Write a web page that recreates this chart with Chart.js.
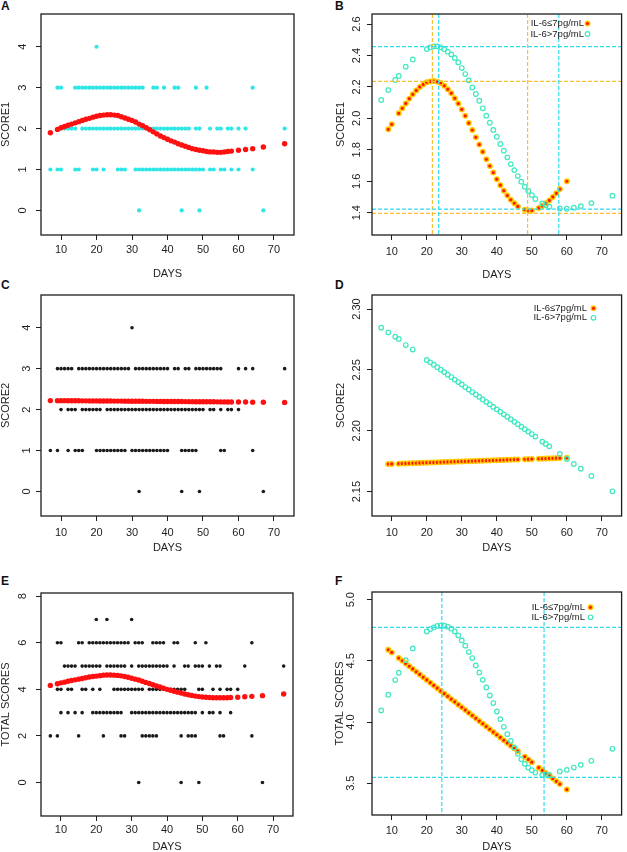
<!DOCTYPE html>
<html>
<head>
<meta charset="utf-8">
<script src="https://cdn.jsdelivr.net/npm/chart.js@4.4.0/dist/chart.umd.min.js"></script>
<style>
  body { margin: 0; background: #fff; width: 627px; height: 852px; position: relative; overflow: hidden; }
  canvas { position: absolute; }
  .tag { position: absolute; font: bold 12px "Liberation Sans", Arial, sans-serif; line-height: 1; color: #111; }
</style>
</head>
<body>
<div class="tag" style="left:1px;top:0px">A</div>
<div class="tag" style="left:335px;top:0px">B</div>
<div class="tag" style="left:1px;top:279px">C</div>
<div class="tag" style="left:335px;top:279px">D</div>
<div class="tag" style="left:1px;top:575px">E</div>
<div class="tag" style="left:335px;top:575px">F</div>

<canvas id="chartA" width="313" height="285" style="left:0;top:0"></canvas>
<canvas id="chartB" width="314" height="285" style="left:313px;top:0"></canvas>
<canvas id="chartC" width="313" height="283" style="left:0;top:285px"></canvas>
<canvas id="chartD" width="314" height="283" style="left:313px;top:285px"></canvas>
<canvas id="chartE" width="313" height="284" style="left:0;top:568px"></canvas>
<canvas id="chartF" width="314" height="284" style="left:313px;top:568px"></canvas>

<script>
// ticks
let dayTicks = [10, 20, 30, 40, 50, 60, 70]
let score12Ticks = [0, 1, 2, 3, 4]
let totalTicks = [0, 2, 4, 6, 8]
let ticksB = [1.4, 1.6, 1.8, 2.0, 2.2, 2.4, 2.6]
let ticksD = [2.15, 2.20, 2.25, 2.30]
let ticksF = [3.5, 4.0, 4.5, 5.0]

//A: SCORE1 raw values, days at each score
let scoreA4 = [20]
let scoreA3 = [9, 10, 14, 15, 16, 17, 18, 19, 20, 21, 22, 23, 24, 25, 26, 27, 28, 29, 30, 31, 32, 33, 36, 37, 39, 42, 43, 48, 51, 64]
let scoreA2 = [10, 11, 12, 13, 14, 16, 17, 18, 19, 20, 21, 22, 23, 24, 25, 26, 27, 28, 29, 30, 31, 32, 33, 34, 35, 36, 37, 38, 39, 40, 41, 42, 43, 44, 45, 46, 48, 49, 52, 54, 55, 57, 58, 60, 62, 73]
let scoreA1 = [7, 9, 10, 14, 15, 19, 20, 22, 26, 27, 28, 31, 32, 33, 34, 35, 36, 37, 38, 39, 40, 41, 42, 43, 44, 45, 46, 47, 48, 49, 50, 52, 53, 55, 56, 58, 60, 64]
let scoreA0 = [32, 44, 49, 67]

//C: SCORE2 raw values
let scoreC4 = [30]
let scoreC3 = [9, 10, 11, 12, 13, 15, 16, 17, 18, 19, 20, 21, 22, 23, 24, 25, 26, 27, 28, 29, 31, 32, 33, 34, 35, 36, 37, 38, 39, 40, 42, 43, 45, 46, 48, 49, 50, 51, 52, 53, 54, 55, 60, 62, 64, 73]
let scoreC2 = [10, 12, 13, 14, 16, 17, 18, 19, 20, 21, 23, 24, 25, 26, 27, 28, 29, 30, 31, 32, 33, 34, 35, 36, 37, 38, 39, 40, 41, 42, 43, 44, 45, 46, 47, 48, 49, 50, 52, 53, 55, 57, 58, 60]
let scoreC1 = [7, 9, 12, 14, 15, 16, 20, 21, 22, 23, 24, 25, 26, 27, 28, 30, 31, 32, 33, 34, 35, 36, 37, 38, 39, 40, 44, 45, 46, 47, 48, 55, 56, 64]
let scoreC0 = [32, 44, 49, 67]

//E: TOTAL SCORES raw values
let totalE7 = [20, 23, 30]
let totalE6 = [9, 10, 15, 16, 18, 19, 20, 21, 22, 23, 24, 25, 26, 27, 28, 29, 31, 32, 33, 36, 37, 38, 39, 42, 43, 48, 51, 64]
let totalE5 = [11, 12, 13, 14, 16, 17, 18, 19, 20, 21, 23, 24, 25, 26, 27, 28, 30, 32, 33, 34, 35, 36, 37, 38, 39, 40, 42, 45, 46, 48, 49, 50, 52, 54, 55, 62, 73]
let totalE4 = [9, 10, 12, 13, 16, 17, 19, 21, 25, 26, 27, 28, 29, 30, 31, 32, 33, 35, 36, 37, 38, 39, 41, 42, 43, 44, 45, 49, 50, 53, 55, 57, 58, 60]
let totalE3 = [10, 12, 14, 16, 19, 20, 21, 22, 23, 24, 25, 26, 27, 30, 31, 32, 33, 34, 35, 36, 37, 38, 39, 40, 41, 42, 43, 44, 45, 46, 47, 48, 50, 52, 53, 55, 58]
let totalE2 = [7, 9, 15, 22, 27, 28, 33, 34, 35, 36, 37, 44, 46, 47, 48, 55, 56, 64]
let totalE0 = [32, 44, 49, 67]

//fitted curves A, C, E
let fitDays = [7, 9, 10, 11, 12, 13, 14, 15, 16, 17, 18, 19, 20, 21, 22, 23, 24, 25, 26, 27, 28, 29, 30, 31, 32, 33, 34, 35, 36, 37, 38, 39, 40, 41, 42, 43, 44, 45, 46, 47, 48, 49, 50, 51, 52, 53, 54, 55, 56, 57, 58, 60, 62, 64, 67, 73]
let fitA = [1.90, 1.98, 2.02, 2.05, 2.08, 2.11, 2.14, 2.17, 2.20, 2.23, 2.25, 2.28, 2.30, 2.32, 2.33, 2.34, 2.34, 2.33, 2.32, 2.29, 2.26, 2.23, 2.20, 2.16, 2.11, 2.07, 2.02, 1.97, 1.92, 1.87, 1.82, 1.78, 1.74, 1.70, 1.67, 1.63, 1.60, 1.57, 1.54, 1.51, 1.49, 1.47, 1.46, 1.44, 1.43, 1.43, 1.42, 1.42, 1.43, 1.44, 1.45, 1.47, 1.49, 1.51, 1.55, 1.63]
let fitC = [2.220, 2.219, 2.218, 2.218, 2.217, 2.216, 2.216, 2.215, 2.214, 2.214, 2.213, 2.212, 2.212, 2.211, 2.210, 2.210, 2.209, 2.208, 2.208, 2.207, 2.206, 2.206, 2.205, 2.204, 2.204, 2.203, 2.202, 2.202, 2.201, 2.200, 2.200, 2.199, 2.198, 2.198, 2.197, 2.196, 2.196, 2.195, 2.194, 2.194, 2.193, 2.192, 2.192, 2.191, 2.190, 2.190, 2.189, 2.188, 2.188, 2.187, 2.186, 2.185, 2.184, 2.182, 2.180, 2.176]
let fitE = [4.17, 4.24, 4.28, 4.31, 4.35, 4.38, 4.41, 4.44, 4.47, 4.50, 4.53, 4.55, 4.57, 4.59, 4.61, 4.62, 4.62, 4.61, 4.60, 4.58, 4.55, 4.52, 4.48, 4.44, 4.40, 4.35, 4.30, 4.25, 4.20, 4.15, 4.10, 4.05, 4.00, 3.96, 3.92, 3.88, 3.84, 3.80, 3.77, 3.74, 3.71, 3.69, 3.67, 3.66, 3.65, 3.64, 3.64, 3.64, 3.64, 3.64, 3.65, 3.66, 3.68, 3.70, 3.73, 3.80]

//IL-6 groups (B, D, F)
let lowDays = [9, 10, 12, 13, 14, 15, 16, 17, 18, 19, 20, 21, 22, 23, 24, 25, 26, 27, 28, 29, 30, 31, 32, 33, 34, 35, 36, 37, 38, 39, 40, 41, 42, 43, 44, 45, 46, 48, 49, 50, 52, 53, 54, 55, 56, 57, 58, 60]
let highDays = [7, 9, 11, 12, 14, 16, 20, 21, 22, 23, 24, 25, 26, 27, 28, 29, 30, 31, 32, 33, 34, 35, 36, 37, 38, 39, 40, 41, 42, 43, 44, 45, 46, 47, 48, 49, 50, 51, 53, 54, 55, 58, 60, 62, 64, 67, 73]

let lowB = [1.930, 1.962, 2.032, 2.064, 2.095, 2.125, 2.153, 2.178, 2.200, 2.216, 2.229, 2.235, 2.237, 2.233, 2.225, 2.207, 2.185, 2.160, 2.128, 2.094, 2.057, 2.016, 1.970, 1.926, 1.880, 1.833, 1.787, 1.740, 1.697, 1.655, 1.613, 1.575, 1.540, 1.509, 1.482, 1.460, 1.440, 1.419, 1.414, 1.414, 1.430, 1.443, 1.460, 1.478, 1.500, 1.523, 1.550, 1.600]
let highB = [2.117, 2.180, 2.244, 2.270, 2.329, 2.375, 2.441, 2.452, 2.458, 2.458, 2.452, 2.440, 2.424, 2.407, 2.384, 2.356, 2.320, 2.282, 2.242, 2.197, 2.155, 2.112, 2.064, 2.017, 1.972, 1.926, 1.883, 1.837, 1.794, 1.752, 1.709, 1.671, 1.633, 1.597, 1.565, 1.538, 1.512, 1.487, 1.459, 1.447, 1.438, 1.427, 1.425, 1.432, 1.442, 1.461, 1.508]

let lowD = [2.1727, 2.1728, 2.1730, 2.1731, 2.1732, 2.1733, 2.1734, 2.1735, 2.1736, 2.1737, 2.1738, 2.1739, 2.1740, 2.1741, 2.1742, 2.1743, 2.1744, 2.1745, 2.1746, 2.1747, 2.1748, 2.1749, 2.1750, 2.1751, 2.1752, 2.1753, 2.1754, 2.1755, 2.1756, 2.1757, 2.1758, 2.1759, 2.1760, 2.1761, 2.1762, 2.1763, 2.1764, 2.1766, 2.1767, 2.1768, 2.1770, 2.1771, 2.1772, 2.1773, 2.1774, 2.1775, 2.1776, 2.1778]
let highD = [2.2847, 2.2808, 2.2773, 2.2754, 2.2704, 2.2667, 2.2581, 2.2562, 2.2542, 2.2522, 2.2502, 2.2482, 2.2461, 2.2441, 2.2420, 2.2400, 2.2380, 2.2359, 2.2339, 2.2318, 2.2298, 2.2278, 2.2257, 2.2237, 2.2217, 2.2196, 2.2176, 2.2156, 2.2135, 2.2115, 2.2095, 2.2074, 2.2054, 2.2034, 2.2013, 2.1993, 2.1973, 2.1952, 2.1911, 2.1892, 2.1872, 2.1810, 2.1768, 2.1727, 2.1689, 2.1629, 2.1503]

let lowF = [4.591, 4.569, 4.523, 4.501, 4.478, 4.456, 4.434, 4.411, 4.389, 4.366, 4.344, 4.322, 4.299, 4.277, 4.254, 4.232, 4.210, 4.187, 4.165, 4.142, 4.120, 4.098, 4.075, 4.053, 4.030, 4.008, 3.986, 3.963, 3.941, 3.918, 3.896, 3.874, 3.851, 3.829, 3.806, 3.784, 3.762, 3.717, 3.694, 3.672, 3.627, 3.605, 3.582, 3.560, 3.538, 3.515, 3.493, 3.448]
let highF = [4.095, 4.223, 4.343, 4.403, 4.506, 4.602, 4.741, 4.760, 4.774, 4.785, 4.787, 4.787, 4.779, 4.763, 4.741, 4.708, 4.667, 4.624, 4.572, 4.523, 4.463, 4.405, 4.345, 4.283, 4.217, 4.155, 4.086, 4.024, 3.961, 3.901, 3.846, 3.792, 3.740, 3.696, 3.658, 3.628, 3.606, 3.587, 3.568, 3.568, 3.568, 3.596, 3.609, 3.628, 3.650, 3.683, 3.781]

//reference lines (dashed)
let vGoldB = [21.6, 48.8]
let vCyanB = [23.4, 57.7]
let hGoldB = [2.235, 1.396]
let hCyanB = [2.456, 1.423]
let vCyanF = [24.3, 53.5]
let hCyanF = [4.774, 3.547]

const FONT = '"Liberation Sans", Arial, sans-serif'
const INK = '#1e1e1e'
const GOLD = '#f7c030'
const SKY = '#30dcec'

function pts(days, vals) {
    return days.map((d, i) => ({ x: d, y: vals[i] }))
}
function level(days, v) {
    return days.map(d => ({ x: d, y: v }))
}

function fitSet(vals) {
    return { data: pts(fitDays, vals), pointRadius: 2.7, pointBackgroundColor: '#ff1010', pointBorderWidth: 0, order: 1 }
}
function rawSet(data, color, r) {
    return { data: data, pointRadius: r, pointBackgroundColor: color, pointBorderWidth: 0, order: 2 }
}
function lowSet(vals) {
    return { label: 'IL-6\u22647pg/mL', data: pts(lowDays, vals), pointRadius: 2.3, pointBackgroundColor: '#ff1500', pointBorderColor: '#ffc800', pointBorderWidth: 1.4, order: 2 }
}
function highSet(vals) {
    return { label: 'IL-6>7pg/mL', data: pts(highDays, vals), pointRadius: 2.3, pointBackgroundColor: 'rgba(0,0,0,0)', pointBorderColor: '#3ee8c0', pointBorderWidth: 1.2, order: 1 }
}

// box, rotated y labels, dashed lines, legend
const rPanel = {
    id: 'rPanel',
    afterDatasetsDraw(chart, args, o) {
        const ctx = chart.ctx
        const a = chart.chartArea
        const x = chart.scales.x
        const y = chart.scales.y

        ctx.save()
        ctx.beginPath()
        ctx.rect(a.left, a.top, a.width, a.height)
        ctx.clip()
        ctx.lineWidth = 1.2
        ctx.setLineDash([4, 2])
        let lines = o.lines || []
        lines.forEach(l => {
            ctx.strokeStyle = l.color
            l.v.forEach(v => {
                ctx.beginPath()
                if (l.axis === 'x') {
                    let px = x.getPixelForValue(v)
                    ctx.moveTo(px, a.top)
                    ctx.lineTo(px, a.bottom)
                } else {
                    let py = y.getPixelForValue(v)
                    ctx.moveTo(a.left, py)
                    ctx.lineTo(a.right, py)
                }
                ctx.stroke()
            })
        })
        ctx.restore()

        ctx.save()
        ctx.strokeStyle = INK
        ctx.lineWidth = 1.3
        ctx.strokeRect(a.left, a.top, a.width, a.height)

        ctx.fillStyle = INK
        ctx.font = '11px ' + FONT
        ctx.textAlign = 'center'
        ctx.textBaseline = 'middle'
        y.ticks.forEach(t => {
            ctx.save()
            ctx.translate(a.left - o.labOff, y.getPixelForValue(t.value))
            ctx.rotate(-Math.PI / 2)
            ctx.fillText(t.value.toFixed(o.dec), 0, 0)
            ctx.restore()
        })

        if (o.legend) {
            let L = o.legend
            let items = chart.data.datasets.filter(d => d.label)
            ctx.textAlign = 'right'
            ctx.font = '9.5px ' + FONT
            items.forEach((d, i) => {
                let py = L.y + i * L.gap
                ctx.fillStyle = INK
                ctx.fillText(d.label, L.right, py)
                ctx.beginPath()
                ctx.arc(L.sym, py, d.pointRadius, 0, Math.PI * 2)
                ctx.fillStyle = d.pointBackgroundColor
                ctx.fill()
                ctx.lineWidth = d.pointBorderWidth
                ctx.strokeStyle = d.pointBorderColor
                ctx.stroke()
            })
        }
        ctx.restore()
    }
}

function makePanel(id, p) {
    let myChart = document.getElementById(id).getContext('2d')
    let tickGrid = { drawOnChartArea: false, drawTicks: true, tickLength: 5, color: INK, lineWidth: 1 }
    return new Chart(myChart, {
        type: 'scatter',
        data: { datasets: p.datasets },
        options: {
            responsive: false,
            animation: false,
            devicePixelRatio: 1,
            layout: { padding: { left: 0, top: p.top, right: p.right, bottom: 0 } },
            plugins: {
                legend: { display: false },
                tooltip: { enabled: false },
                rPanel: { lines: p.lines, labOff: p.labOff, dec: p.dec, legend: p.legend }
            },
            scales: {
                x: {
                    type: 'linear',
                    min: 4.36,
                    max: 75.64,
                    afterBuildTicks: s => { s.ticks = dayTicks.map(v => ({ value: v })) },
                    afterFit: s => { s.height = p.xh },
                    grid: tickGrid,
                    border: { display: false },
                    ticks: { font: { size: 11, family: FONT }, color: INK, padding: p.xpad, maxRotation: 0, autoSkip: false },
                    title: { display: true, text: 'DAYS', color: INK, font: { size: 11, family: FONT, lineHeight: 1 }, padding: { top: 0, bottom: p.xtb } }
                },
                y: {
                    type: 'linear',
                    min: p.ymin,
                    max: p.ymax,
                    afterBuildTicks: s => { s.ticks = p.yTicks.map(v => ({ value: v })) },
                    afterFit: s => { s.width = p.yw },
                    grid: tickGrid,
                    border: { display: false },
                    ticks: { display: false },
                    title: { display: true, text: p.ytitle, color: INK, font: { size: 11, family: FONT, lineHeight: 1 }, padding: { top: p.ytp, bottom: 0 } }
                }
            }
        },
        plugins: [rPanel]
    })
}

//A
makePanel('chartA', {
    datasets: [
        rawSet([].concat(level(scoreA4, 4), level(scoreA3, 3), level(scoreA2, 2), level(scoreA1, 1), level(scoreA0, 0)), '#2ee6e6', 2.1),
        fitSet(fitA)
    ],
    top: 14, right: 19, yw: 41, xh: 50, xpad: 3, xtb: 6,
    ymin: -0.6, ymax: 4.8, yTicks: score12Ticks, dec: 0, labOff: 18,
    ytitle: 'SCORE1', ytp: 0
})

//B
makePanel('chartB', {
    datasets: [lowSet(lowB), highSet(highB)],
    top: 14, right: 2, yw: 59, xh: 50, xpad: 5, xtb: 5,
    ymin: 1.258, ymax: 2.664, yTicks: ticksB, dec: 1, labOff: 15,
    ytitle: 'SCORE1', ytp: 22,
    lines: [
        { axis: 'x', v: vGoldB, color: GOLD },
        { axis: 'y', v: hGoldB, color: GOLD },
        { axis: 'x', v: vCyanB, color: SKY },
        { axis: 'y', v: hCyanB, color: SKY }
    ],
    legend: { right: 271, sym: 274.5, y: 23.5, gap: 10.5 }
})

//C
makePanel('chartC', {
    datasets: [
        rawSet([].concat(level(scoreC4, 4), level(scoreC3, 3), level(scoreC2, 2), level(scoreC1, 1), level(scoreC0, 0)), '#1a1a1a', 1.8),
        fitSet(fitC)
    ],
    top: 10, right: 19, yw: 41, xh: 52, xpad: 5, xtb: 15,
    ymin: -0.6, ymax: 4.8, yTicks: score12Ticks, dec: 0, labOff: 14,
    ytitle: 'SCORE2', ytp: 0
})

//D
makePanel('chartD', {
    datasets: [lowSet(lowD), highSet(highD)],
    top: 10, right: 2, yw: 59, xh: 52, xpad: 5, xtb: 15,
    ymin: 2.13, ymax: 2.3115, yTicks: ticksD, dec: 2, labOff: 15,
    ytitle: 'SCORE2', ytp: 22,
    legend: { right: 274, sym: 280.5, y: 23.3, gap: 9.5 }
})

//E
makePanel('chartE', {
    datasets: [
        rawSet([].concat(level(totalE7, 7), level(totalE6, 6), level(totalE5, 5), level(totalE4, 4), level(totalE3, 3), level(totalE2, 2), level(totalE0, 0)), '#1a1a1a', 1.8),
        fitSet(fitE)
    ],
    top: 25, right: 20, yw: 41, xh: 36, xpad: 2, xtb: 0,
    ymin: -1.44, ymax: 8.14, yTicks: totalTicks, dec: 0, labOff: 18,
    ytitle: 'TOTAL SCORES', ytp: 0
})

//F
makePanel('chartF', {
    datasets: [lowSet(lowF), highSet(highF)],
    top: 24, right: 2, yw: 59, xh: 37, xpad: 4, xtb: 0,
    ymin: 3.24, ymax: 5.063, yTicks: ticksF, dec: 1, labOff: 21,
    ytitle: 'TOTAL SCORES', ytp: 21,
    lines: [
        { axis: 'x', v: vCyanF, color: SKY },
        { axis: 'y', v: hCyanF, color: SKY }
    ],
    legend: { right: 272, sym: 277.5, y: 39.3, gap: 10 }
})
</script>
</body>
</html>
